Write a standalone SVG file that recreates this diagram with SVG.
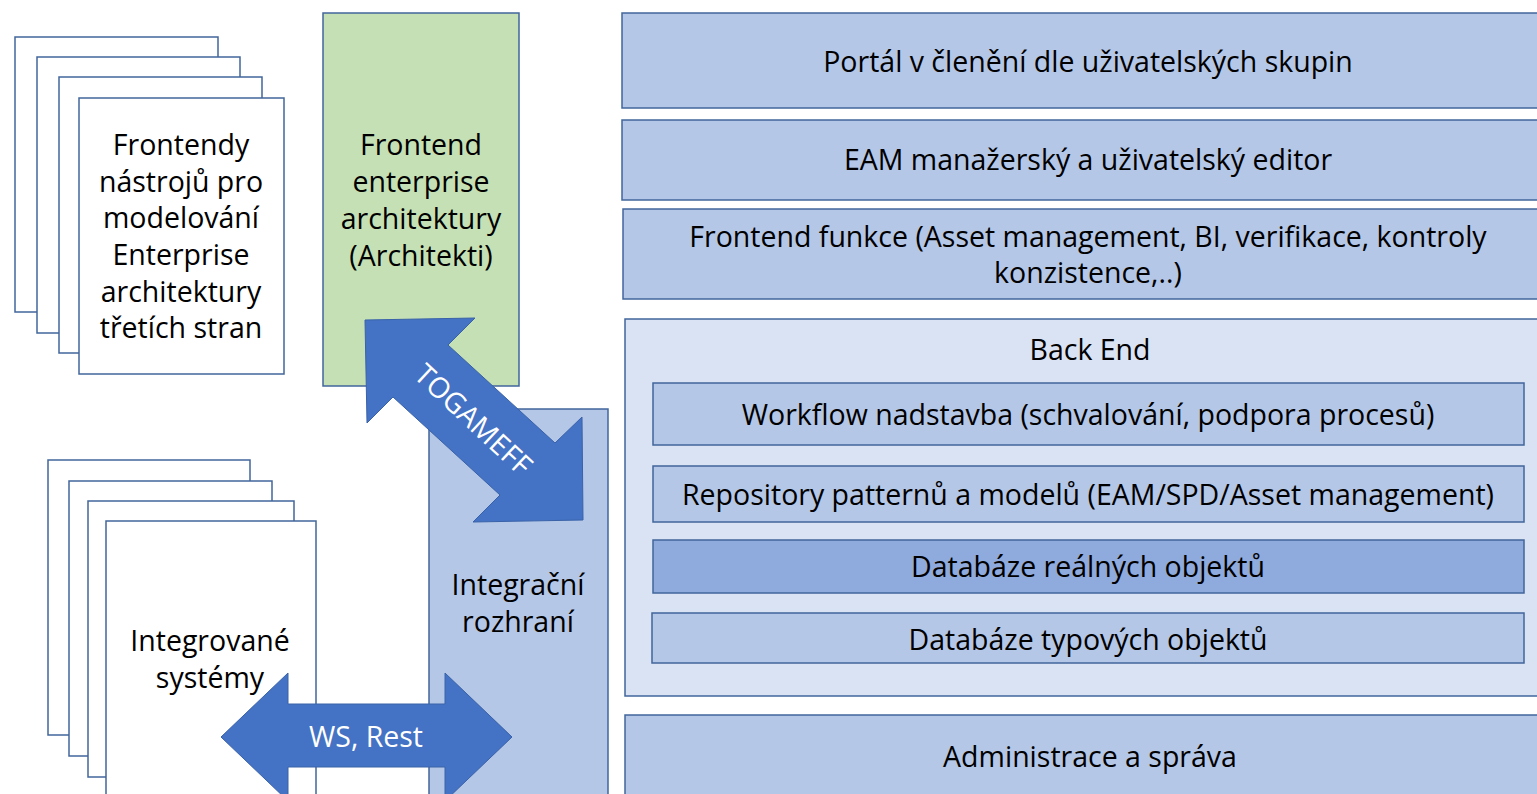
<svg xmlns="http://www.w3.org/2000/svg" width="1537" height="794" viewBox="0 0 1537 794">
<style>
.pg{fill:#ffffff;stroke:#41669c;stroke-width:1.5}
.lb{fill:#b4c7e7;stroke:#41669c;stroke-width:1.5}
.be{fill:#dae3f3;stroke:#41669c;stroke-width:1.5}
.dk{fill:#8faadc;stroke:#41669c;stroke-width:1.5}
.gr{fill:#c5e0b4;stroke:#41669c;stroke-width:1.5}
.ar{fill:#4472c4;stroke:#3a62a8;stroke-width:1}
text{font-family:"Open Sans","Liberation Sans",sans-serif;font-size:28.5px;fill:#000;text-anchor:middle;dominant-baseline:central}
.w{fill:#ffffff}
</style>
<rect width="1537" height="794" fill="#ffffff"/>
<g id="frontendy-stack">
<rect class="pg" x="15" y="37" width="203" height="275"/>
<rect class="pg" x="37" y="57" width="203" height="276"/>
<rect class="pg" x="59" y="77" width="203" height="276"/>
<rect class="pg" x="79" y="98" width="205" height="276"/>
<text x="181" y="144">Frontendy</text>
<text x="181" y="181">nástrojů pro</text>
<text x="181" y="217">modelování</text>
<text x="181" y="254">Enterprise</text>
<text x="181" y="291">architektury</text>
<text x="181" y="327">třetích stran</text>
</g>
<g id="frontend-ea">
<rect class="gr" x="323" y="13" width="196" height="373"/>
<text x="421" y="144">Frontend</text>
<text x="421" y="181">enterprise</text>
<text x="421" y="218">architektury</text>
<text x="421" y="255">(Architekti)</text>
</g>
<g id="integracni">
<rect class="lb" x="429" y="409" width="179" height="400"/>
<text x="518" y="584">Integrační</text>
<text x="518" y="621">rozhraní</text>
</g>
<g id="integrovane-stack">
<rect class="pg" x="48" y="460" width="202" height="275"/>
<rect class="pg" x="69" y="481" width="203" height="275"/>
<rect class="pg" x="88" y="501" width="206" height="276"/>
<rect class="pg" x="106" y="521" width="210" height="290"/>
<text x="210" y="640">Integrované</text>
<text x="210" y="677">systémy</text>
</g>
<g id="portal">
<rect class="lb" x="622" y="13" width="920" height="95"/>
<text x="1088" y="61">Portál v členění dle uživatelských skupin</text>
</g>
<g id="eam-editor">
<rect class="lb" x="622" y="120" width="920" height="80"/>
<text x="1088" y="159">EAM manažerský a uživatelský editor</text>
</g>
<g id="frontend-funkce">
<rect class="lb" x="623" y="209" width="919" height="90"/>
<text x="1088" y="236">Frontend funkce (Asset management, BI, verifikace, kontroly</text>
<text x="1088" y="272">konzistence,..)</text>
</g>
<g id="back-end">
<rect class="be" x="625" y="319" width="917" height="377"/>
<text x="1090" y="349">Back End</text>
</g>
<g id="workflow">
<rect class="lb" x="653" y="383" width="871" height="62"/>
<text x="1088" y="414">Workflow nadstavba (schvalování, podpora procesů)</text>
</g>
<g id="repository">
<rect class="lb" x="653" y="466" width="871" height="56"/>
<text x="1088" y="494">Repository patternů a modelů (EAM/SPD/Asset management)</text>
</g>
<g id="db-realnych">
<rect class="dk" x="653" y="540" width="871" height="53"/>
<text x="1088" y="566">Databáze reálných objektů</text>
</g>
<g id="db-typovych">
<rect class="lb" x="652" y="613" width="872" height="50"/>
<text x="1088" y="639">Databáze typových objektů</text>
</g>
<g id="administrace">
<rect class="lb" x="625" y="715" width="917" height="95"/>
<text x="1090" y="756">Administrace a správa</text>
</g>
<g id="connectors">
<polygon class="ar" points="365,320 475,318 448,345 555,443 582,417 583,520 473,522 500,495 393,397 367,423"/>
<text class="w" x="474" y="419" transform="rotate(43 474 419)">TOGAMEFF</text>
<polygon class="ar" points="221,737 288,673 288,704 445,704 445,673 512,737 445,801 445,767 288,767 288,801"/>
<text class="w" x="366" y="736">WS, Rest</text>
</g>
</svg>
